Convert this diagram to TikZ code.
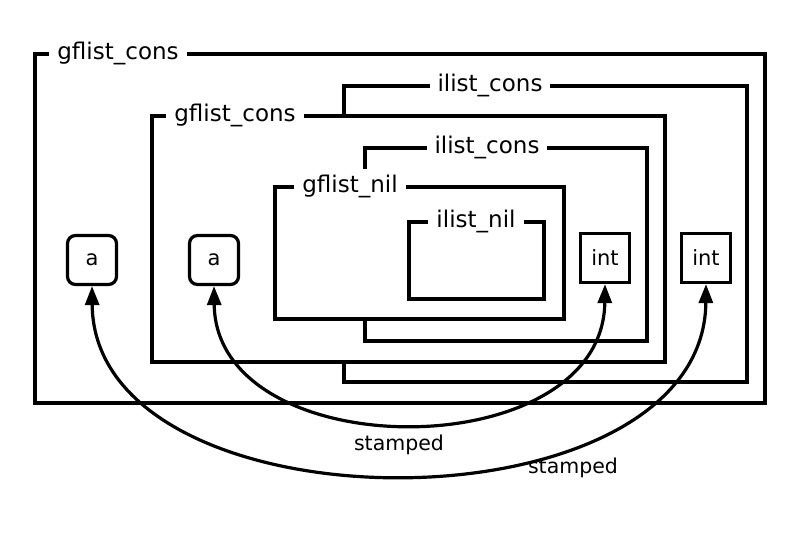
\documentclass[tikz,border=0pt]{standalone}
\usepackage{fontspec}
\setmainfont{DejaVu Sans}
\usetikzlibrary{arrows.meta}
\begin{document}
\begin{tikzpicture}[x=1pt,y=-1pt,
  boxline/.style={draw, line width=3.2pt, fill=white, line join=miter},
  lbl/.style={fill=white, inner sep=8pt, font=\fontsize{23}{27}\selectfont, text height=16pt, text depth=5pt},
  typebox/.style={draw, line width=3.2pt, minimum width=49pt, minimum height=49pt, inner sep=0pt, font=\fontsize{21}{24}\selectfont},
  rbox/.style={typebox, rounded corners=8pt},
  stamp/.style={line width=3.2pt, {Triangle[length=19pt,width=14pt]}-{Triangle[length=19pt,width=14pt]}},
  stlbl/.style={font=\fontsize{20.5}{24}\selectfont, inner sep=2pt}]
\useasboundingbox (0,0) rectangle (800,533);
\fill[white] (0,0) rectangle (800,533);
% outer gflist_cons
\path[boxline] (35,54) rectangle (765,403);
\node[lbl] (l1) at (118,54) {gflist\_cons};
% outer ilist_cons
\path[boxline] (344,86) rectangle (747,382);
\node[lbl] (l2) at (490,86) {ilist\_cons};
% inner gflist_cons
\path[boxline] (152,116) rectangle (665,362);
\node[lbl] (l3) at (235,116) {gflist\_cons};
% inner ilist_cons
\path[boxline] (365,148) rectangle (647,341);
\node[lbl] (l4) at (487,148) {ilist\_cons};
% gflist_nil
\path[boxline] (275,187) rectangle (564,319);
\node[lbl] (l5) at (350,187) {gflist\_nil};
% ilist_nil
\path[boxline] (409,222) rectangle (544,299);
\node[lbl] (l6) at (476,222) {ilist\_nil};
% element nodes
\node[rbox] (a1) at (92,260) {a};
\node[rbox] (a2) at (214,260) {a};
\node[typebox] (i1) at (605,258) {int};
\node[typebox] (i2) at (706,258) {int};
% stamped connectors
\draw[stamp] (a2.south) .. controls (216,468) and (603,468) .. (i1.south);
\draw[stamp] (a1.south) .. controls (94,536) and (704,536) .. (i2.south);
\node[stlbl] (s1) at (399,445) {stamped};
\node[stlbl] (s2) at (573,468) {stamped};
\end{tikzpicture}
\end{document}
